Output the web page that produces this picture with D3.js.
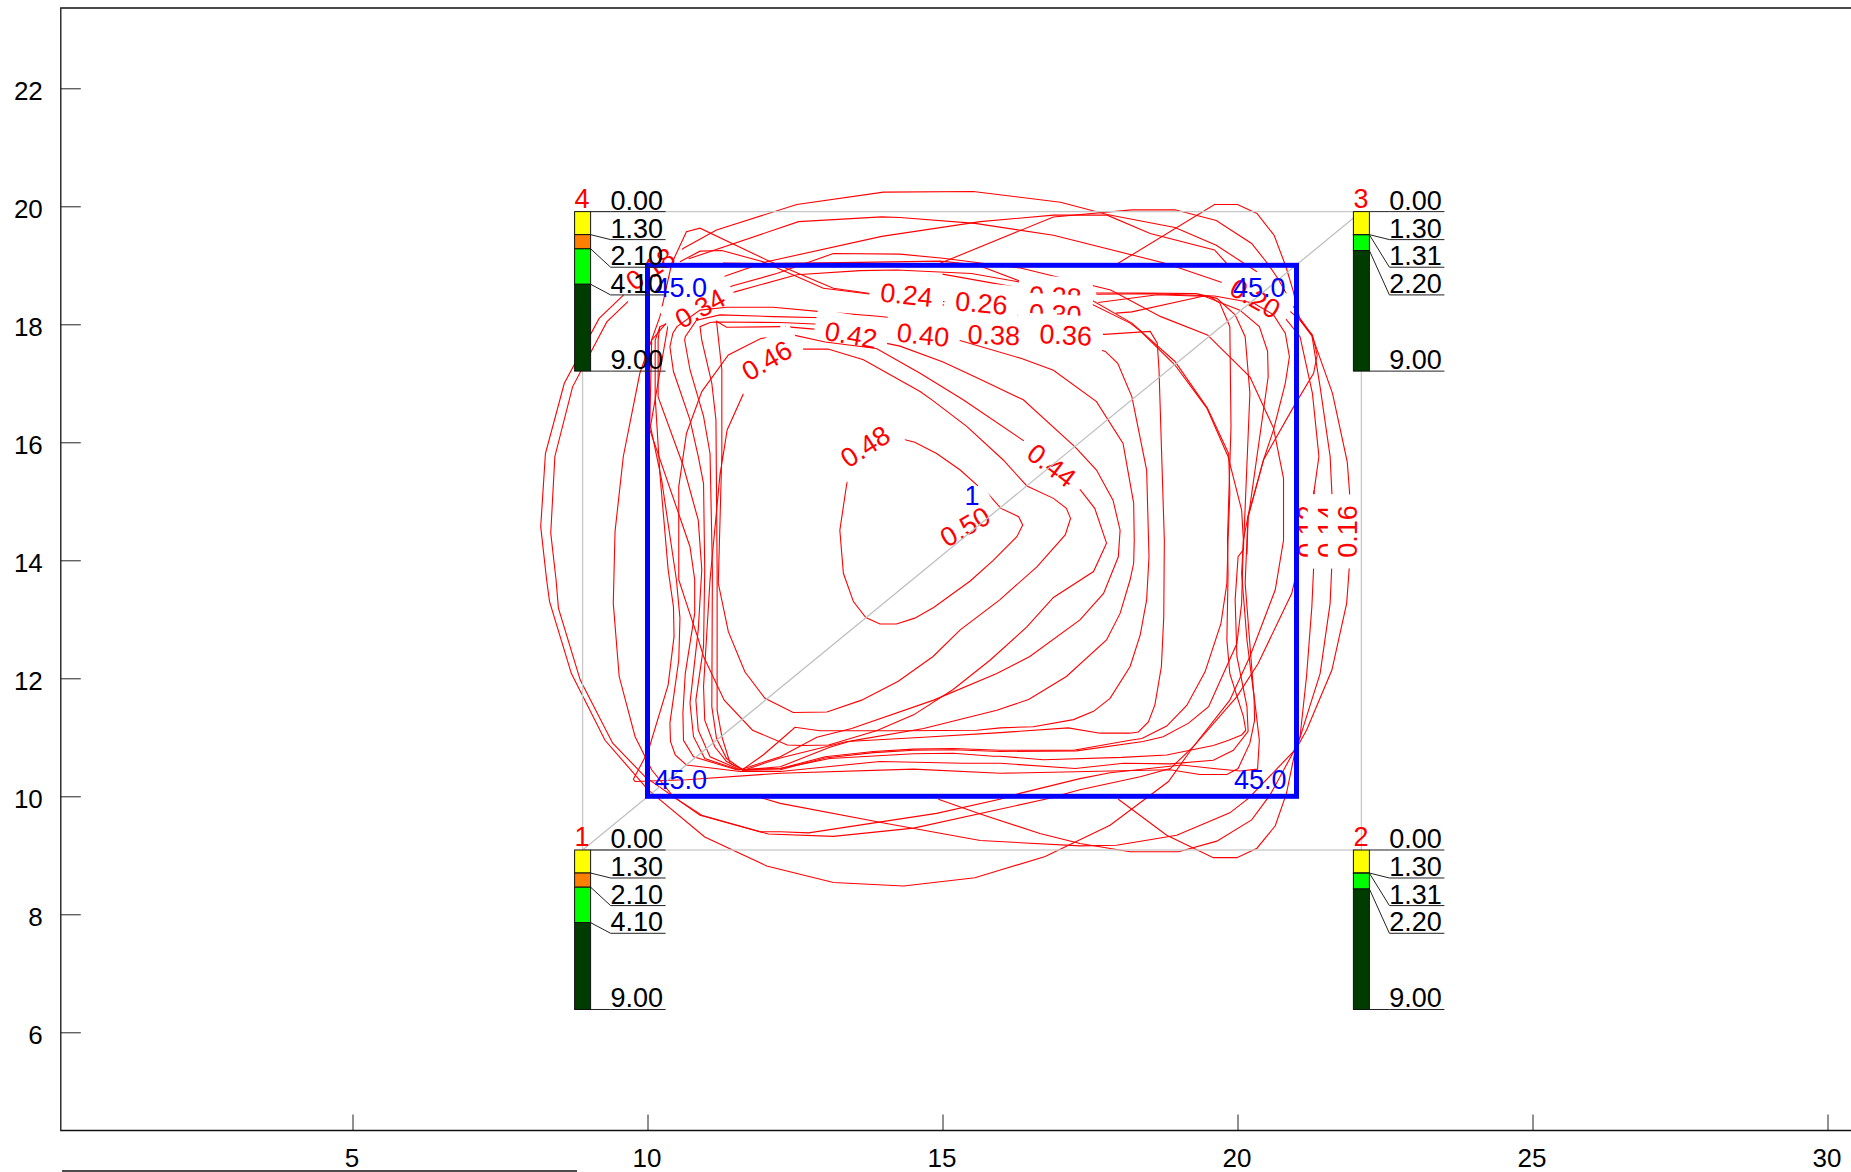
<!DOCTYPE html>
<html><head><meta charset="utf-8">
<script src="https://cdn.jsdelivr.net/npm/d3@7"></script>
<style>html,body{margin:0;padding:0;background:#fff;overflow:hidden}svg{display:block}text{font-family:"Liberation Sans",Arial,sans-serif}</style>
</head><body><svg id="c" width="1851" height="1172"></svg>
<script>
// --- values (data units) ---
const xTickValues=[5,10,15,20,25,30];
const yTickValues=[6,8,10,12,14,16,18,20,22];
const plate={x0:10,x1:21,y0:10,y1:19};
const plateLabel="45.0";
const centreLabel={text:"1",x:15.5,y:15.0};
const frame={x0:8.9,x1:22.1,y0:9.09,y1:19.91};
const stationNames=["1","2","3","4"];
const stationX=[8.9,22.1,22.1,8.9];
const stationY=[9.09,9.09,19.91,19.91];
const depthsA=[0,1.3,2.1,4.1,9];
const depthsB=[0,1.3,1.31,2.2,9];
const depthLabelsA=["0.00","1.30","2.10","4.10","9.00"];
const depthLabelsB=["0.00","1.30","1.31","2.20","9.00"];
const layerColors=["#ffff00","#ff8000","#00ff00","#003c00"];

const contourOuter=[[21.30,15.19],[21.12,14.17],[21.03,13.92],[20.92,13.44],[20.35,12.25],[19.99,11.69],[19.25,10.84],[18.83,10.25],[17.84,9.51],[16.74,8.98],[15.98,8.75],[15.55,8.62],[14.34,8.48],[13.15,8.54],[12.02,8.82],[10.97,9.31],[10.01,10.11],[9.28,10.95],[8.71,12.08],[8.34,13.30],[8.29,13.67],[8.19,14.57],[8.27,15.81],[8.59,17.00],[9.18,18.10],[9.65,18.55],[10.61,19.29],[11.17,19.60],[12.53,20.03],[14.00,20.24],[15.52,20.25],[17.00,20.07],[17.79,19.86],[18.94,19.64],[19.64,19.34],[20.33,18.89]];
const contour12=[[11.32,18.82],[12.02,19.06],[13.97,19.49],[15.64,19.74],[16.88,19.85],[17.79,19.85],[18.52,19.54],[19.61,19.26],[19.82,19.03],[20.33,18.70],[21.06,17.79],[21.27,16.83],[21.38,15.76],[21.30,15.19],[21.29,13.86],[21.26,13.21],[21.17,12.03],[21.06,11.01],[20.95,10.76],[20.18,9.96],[19.87,9.72],[18.97,9.34],[17.95,9.17],[17.33,9.16],[15.64,9.25],[14.05,9.54],[12.25,9.88],[11.91,9.98]];
const contour14=[[14.95,19.03],[16.88,19.82],[18.21,19.94],[18.94,19.94],[19.64,19.76],[20.24,19.37],[20.51,19.03],[20.70,18.75],[21.06,18.10],[21.26,17.82],[21.40,16.94],[21.57,15.76],[21.60,15.13],[21.60,13.95],[21.57,13.27],[21.40,12.08],[21.17,11.35],[21.03,10.90],[20.55,10.02],[20.24,9.60],[19.65,9.24],[19.00,9.06],[18.18,9.06],[17.33,9.20],[16.65,9.37],[15.64,9.70],[14.93,9.95]];
const contour16=[[17.97,19.03],[19.61,20.03],[20.00,20.03],[20.33,19.88],[20.62,19.51],[20.82,18.98],[20.94,18.58],[21.06,18.07],[21.27,17.79],[21.61,16.83],[21.86,15.67],[21.90,15.14],[21.90,13.95],[21.85,13.27],[21.60,12.14],[21.17,11.12],[20.98,10.78],[20.83,10.05],[20.64,9.50],[20.33,9.12],[19.99,8.96],[19.59,8.96],[18.80,9.34],[17.98,9.95]];
const contour18=[[19.85,18.67],[18.79,19.03],[16.88,19.51],[15.55,19.71],[14.28,19.81],[13.97,19.82],[12.56,19.74],[10.55,19.06],[9.84,18.55],[9.31,18.04],[9.03,17.51],[8.73,16.94],[8.43,15.76],[8.36,14.46],[8.45,13.67],[8.49,13.19],[8.86,11.97],[9.41,10.90],[9.96,10.33],[10.89,9.68],[12.05,9.36],[13.15,9.32],[14.51,9.46],[16.74,9.95],[17.33,10.11],[18.35,10.33],[18.86,10.47],[19.25,10.84],[19.87,11.63],[20.21,12.37],[20.64,13.50],[20.78,14.34],[20.78,15.39],[20.61,16.24],[20.21,17.11],[19.49,17.82],[18.70,18.13],[17.85,18.58],[16.34,18.95],[15.01,19.12],[14.28,19.19],[13.15,19.20],[12.19,18.86],[11.43,18.65]];
const contourSide=[[20.16,14.10],[20.18,14.74],[20.44,15.70],[20.95,16.60],[21.29,17.17],[21.35,17.48],[21.27,17.82],[21.06,18.07],[20.8,18.3]];
const contour20=[[17.61,18.51],[18.52,18.52],[19.61,18.48],[20.27,18.36],[20.61,18.16],[20.81,17.85],[20.88,17.45],[20.81,17.00],[20.61,16.21],[20.44,15.70],[20.18,14.74],[20.16,14.34],[20.13,13.61],[20.27,11.80],[20.37,10.95],[20.34,10.46],[20.04,10.43],[19.59,10.47],[19.05,10.53],[17.84,10.40],[17.33,10.30],[16.31,10.05],[15.97,9.95],[14.90,9.71],[12.73,9.38],[12.25,9.40],[11.91,9.40],[10.92,9.68],[10.44,9.99],[10.07,10.45],[9.79,11.01],[9.52,12.03],[9.42,13.27],[9.45,14.49],[9.59,15.76],[9.87,17.17],[10.21,18.13],[10.41,19.03],[10.66,19.57],[10.89,19.63],[12.02,19.09],[13.15,18.61],[13.86,18.51],[15.07,18.38],[15.19,18.36],[16.34,18.21]];
const contour22=[[17.94,18.19],[18.21,18.21],[19.43,18.48],[20.04,18.24],[20.37,17.96],[20.51,17.54],[20.52,17.11],[20.21,14.91],[20.10,14.34],[20.07,13.78],[20.16,12.65],[20.28,11.69],[20.29,11.29],[20.21,10.90],[20.01,10.47],[19.82,10.37],[19.36,10.37],[18.86,10.45],[15.98,10.39],[14.51,10.46],[12.25,10.39],[10.66,10.28],[9.79,10.25],[9.76,10.29],[10.01,10.76],[10.35,11.89],[10.45,12.71],[10.44,13.21],[10.35,13.84],[10.21,15.47],[10.13,16.77],[10.13,17.73],[10.21,17.96]];
const contour24=[[11.32,18.82],[10.30,18.0],[10.07,17.73],[10.04,16.32],[10.24,15.36],[10.49,13.67],[10.55,13.02],[10.53,12.31],[10.38,11.24],[10.39,10.93],[10.47,10.70],[10.66,10.53],[11.57,10.42],[12.25,10.42],[13.94,10.59],[15.35,10.56],[15.98,10.56],[17.25,10.47],[18.07,10.56],[18.86,10.55],[19.59,10.61],[19.93,10.78],[20.18,11.10],[20.16,11.52],[19.99,12.37],[19.96,13.33],[20.01,14.06],[20.10,14.18],[20.21,16.83],[20.13,17.79],[19.96,18.16],[19.65,18.44],[19.3,18.52],[18.4,18.53],[17.6,18.53]];
const contour26=[[11.43,18.65],[10.35,18.0],[10.04,16.21],[10.72,14.23],[10.80,13.67],[10.80,13.10],[10.64,12.08],[10.60,11.41],[10.61,10.95],[10.78,10.67],[11.51,10.45],[12.25,10.47],[13.09,10.64],[14.51,10.72],[15.18,10.73],[15.86,10.68],[15.98,10.68],[16.71,10.62],[18.04,10.66],[18.80,10.70],[19.59,10.86],[19.85,10.95],[20.07,11.04],[20.14,11.12],[20.10,11.35],[19.87,12.08],[19.82,12.65],[19.84,13.78],[19.83,14.34],[19.89,16.27],[19.87,17.96],[19.70,18.36],[19.53,18.47],[18.64,18.50],[17.64,18.37]];
const contour28=[[15.0,18.85],[16.40,18.6],[17.37,18.42],[18.18,18.02],[18.35,17.89],[18.94,17.31],[19.48,16.58],[19.84,15.76],[20.07,14.85],[20.10,14.34],[20.07,13.27],[19.99,12.59],[19.51,11.52],[19.17,11.24],[18.74,11.01],[18.40,10.93],[17.27,10.77],[15.98,10.76],[15.18,10.79],[14.51,10.78],[13.83,10.74],[13.01,10.65],[12.25,10.45],[11.6,10.44]];
const contour30=[[10.21,17.96],[11.48,18.55],[12.53,18.84],[13.60,18.91],[14.22,18.92],[15.49,18.86],[16.40,18.70],[17.37,18.50],[18.21,18.02],[18.94,17.37],[19.49,16.58],[19.85,15.81],[19.87,15.14],[19.84,14.34],[19.82,13.61],[19.72,12.93],[19.45,12.11],[19.14,11.54],[18.80,11.19],[18.38,10.98],[18.18,10.95],[17.22,10.78],[15.98,10.78],[15.18,10.81],[14.51,10.80],[13.83,10.76],[13.01,10.67],[12.25,10.47],[11.54,10.45],[10.97,10.64],[10.78,11.01],[10.72,11.58],[10.86,12.82],[10.92,13.84],[10.86,14.68],[10.61,15.59],[10.18,16.77],[10.18,17.73],[10.21,17.96]];
const contour32=[[10.55,19.06],[10.89,19.24],[11.26,19.25],[11.96,19.06],[12.98,18.61],[13.86,18.50],[14.28,18.45],[15.19,18.30],[16.34,18.15]];
const contour33=[[11.28,19.04],[11.85,19.03],[13.60,19.05],[14.96,19.07],[15.58,19.01],[16.34,18.72]];
const contour36=[[11.57,10.45],[11.06,10.67],[10.86,11.12],[10.82,11.63],[10.95,12.54],[10.97,13.84],[10.95,15.30],[10.86,15.76],[10.72,16.38],[10.44,17.20],[10.38,17.62],[10.43,17.85],[10.50,17.96],[10.89,18.24],[11.34,18.29],[12.13,18.29],[12.98,18.21],[13.86,18.14],[14.15,18.11],[15.2,17.98],[16.4,17.93],[17.5,17.85],[17.74,17.83],[18.52,17.88],[18.64,17.68],[18.67,17.22],[18.76,14.34],[18.75,13.04],[18.71,12.20],[18.60,11.55],[18.49,11.26],[18.32,11.09],[18.18,11.07],[17.67,11.07],[17.13,11.16],[15.98,11.08],[14.68,11.0],[13.38,10.93],[12.25,10.65],[11.68,10.46]];
const contour38=[[11.60,10.46],[11.34,10.64],[11.17,10.98],[11.09,11.52],[11.10,13.84],[11.06,15.81],[10.95,16.44],[10.72,17.23],[10.63,17.73],[10.64,17.79],[10.83,18.07],[11.23,18.16],[12.13,18.13],[12.98,18.11],[14.2,17.98],[15.3,17.85],[16.52,17.79],[17.31,17.68],[17.76,17.54],[17.97,17.34],[18.21,16.77],[18.46,15.53],[18.50,14.06],[18.46,13.33],[18.35,12.73],[18.18,12.2],[17.84,11.66],[17.56,11.44],[17.22,11.30],[16.54,11.18],[15.98,11.16],[15.58,11.12],[14.39,11.11],[12.92,11.11],[12.50,11.17],[12.25,10.95],[11.96,10.70],[11.62,10.46]];
const contour40=[[11.62,10.45],[11.40,10.56],[11.26,11.01],[11.18,11.46],[11.18,13.84],[11.16,16.38],[11.09,17.0],[10.92,17.73],[10.89,17.96],[11.06,18.03],[11.14,18.04],[12.25,18.03],[12.92,18.0],[14.2,17.9],[15.31,17.72],[16.34,17.42],[16.88,17.22],[17.61,16.69],[18.06,15.98],[18.24,14.97],[18.25,14.34],[18.24,13.95],[18.18,13.67],[18.01,13.10],[17.78,12.65],[17.10,12.03],[16.46,11.64],[15.92,11.46],[14.68,11.15],[13.46,10.94],[13.09,10.83],[12.25,10.50],[11.62,10.45]];
const contour42=[[11.60,10.46],[12.25,10.67],[12.87,11.0],[13.46,11.15],[14.85,11.63],[15.92,12.08],[16.48,12.37],[17.33,12.99],[17.73,13.44],[17.98,14.06],[18.01,14.51],[17.89,15.02],[17.61,15.53],[17.25,15.92],[16.37,16.72],[15.61,17.08],[15.01,17.36],[14.28,17.63],[12.92,17.91],[12.33,17.96]];
const contour44=[[10.53,13.67],[10.53,15.25],[10.66,16.15],[10.92,16.86],[11.37,17.48],[11.92,17.76],[12.46,17.82],[13.01,17.70],[13.88,17.59],[14.62,17.17],[15.35,16.72],[16.43,15.99],[17.34,15.19],[17.58,14.88],[17.78,14.29],[17.56,13.81],[16.88,13.37],[16.43,12.87],[15.81,12.31],[15.18,11.81],[14.51,11.38],[13.88,11.11],[13.07,10.87],[12.64,10.86],[12.37,10.87],[11.78,11.12],[11.30,11.63],[10.95,12.37],[10.83,12.76],[10.66,13.27],[10.53,13.67]];
const contour46=[[12.25,17.96],[11.34,17.95],[11.17,18.05],[11.26,17.23],[11.26,15.81],[11.20,13.61],[11.37,12.79],[11.65,12.11],[11.99,11.66],[12.25,11.53],[12.47,11.42],[13.04,11.43],[13.63,11.63],[14.25,11.95],[14.84,12.37],[15.30,12.82],[15.97,13.33],[16.60,13.89],[17.08,14.43],[17.17,14.71],[17.10,14.88],[16.88,15.05],[16.43,15.26],[16.03,15.70],[15.41,16.27],[14.82,16.72],[14.62,16.86],[13.66,17.40],[13.06,17.58],[12.64,17.58],[11.66,16.90],[11.35,16.21],[11.26,15.64],[11.23,15.47],[11.06,13.67],[10.95,11.86],[10.97,11.29],[11.14,10.84],[11.34,10.59],[11.60,10.46]];
const contour48=[[13.40,15.45],[13.26,14.51],[13.32,13.78],[13.49,13.30],[13.70,13.03],[13.94,12.92],[14.22,12.92],[14.53,13.02],[14.85,13.20],[15.47,13.65],[15.86,14.00],[16.26,14.40],[16.36,14.60],[16.29,14.74],[15.99,14.88],[15.75,15.15]];
const contour50=[[14.21,16.08],[14.53,16.00],[14.90,15.81],[15.30,15.53],[15.60,15.26]];

// contour label: text, x, y, angle
const contourLabels=[
 ["0.12",21.19,14.49,-90],["0.14",21.53,14.49,-90],["0.16",21.87,14.49,-90],
 ["0.18",10.05,18.94,-35],["0.20",20.30,18.44,30],["0.24",14.39,18.50,6],
 ["0.26",15.66,18.36,5],["0.28",16.91,18.47,3],["0.30",16.91,18.17,3],
 ["0.34",10.89,18.27,-29],["0.36",17.09,17.82,3],["0.38",15.87,17.82,2],
 ["0.40",14.67,17.82,6],["0.42",13.45,17.82,10],["0.44",16.85,15.61,37],
 ["0.46",12.02,17.39,-30],["0.48",13.69,15.93,-33],["0.50",15.38,14.57,-30]];
// painting order: later lines lie over earlier label masks
const paintOrder=[contourOuter,contour12,"0.12",contour14,"0.14",contour16,"0.16",contour18,"0.18",contourSide,"0.20",
 contour20,contour22,contour24,contour26,contour28,contour30,contour32,contour33,"0.24","0.26","0.28","0.30","0.34",
 contour36,contour38,"0.36","0.38",contour40,"0.40",contour42,"0.42",contour44,"0.44",contour46,"0.46",contour48,contour50,"0.48","0.50"];

// --- drawing ---
const svg=d3.select("#c");
const x=d3.scaleLinear().domain([10,21]).range([647.5,1296.5]);
const y=d3.scaleLinear().domain([10,19]).range([796.3,265.3]);
const FS=27, RED="#ff0000", BLUE="#0000ff";
const frameLeft=60.8, frameTop=8, frameBottom=1130.5;

// contours with masked labels
const gC=svg.append("g");
const line=d3.line().x(d=>x(d[0])).y(d=>y(d[1]));
const labelMap=new Map(contourLabels.map(d=>[d[0],d]));
paintOrder.forEach(item=>{
  if(typeof item==="string"){
    const d=labelMap.get(item);
    const g=gC.append("g").attr("transform",`translate(${x(d[1])},${y(d[2])}) rotate(${d[3]})`);
    g.append("rect").attr("x",-37).attr("y",-20).attr("width",74).attr("height",40).attr("fill","#fff");
    g.append("text").attr("text-anchor","middle").attr("y",9.5).attr("font-size",FS).attr("fill",RED).text(d[0]);
  } else {
    gC.append("path").attr("d",line(item)).attr("fill","none").attr("stroke",RED).attr("stroke-width",1.1);
  }
});

// grey frame and diagonal
svg.append("rect").attr("x",x(frame.x0)).attr("y",y(frame.y1)).attr("width",x(frame.x1)-x(frame.x0)).attr("height",y(frame.y0)-y(frame.y1))
  .attr("fill","none").attr("stroke","#c8c8c8").attr("stroke-width",1.3);
svg.append("line").attr("x1",x(frame.x0)).attr("y1",y(frame.y0)).attr("x2",x(frame.x1)).attr("y2",y(frame.y1))
  .attr("stroke","#c0c0c0").attr("stroke-width",1.3);

// plate
svg.append("rect").attr("x",x(plate.x0)).attr("y",y(plate.y1)).attr("width",x(plate.x1)-x(plate.x0)).attr("height",y(plate.y0)-y(plate.y1))
  .attr("fill","none").attr("stroke",BLUE).attr("stroke-width",5);
[[plate.x0,plate.y1,"start",7,32],[plate.x1,plate.y1,"end",-11,32],[plate.x0,plate.y0,"start",7,-7],[plate.x1,plate.y0,"end",-10,-7]].forEach(c=>{
  svg.append("text").attr("x",x(c[0])+c[3]).attr("y",y(c[1])+c[4]).attr("text-anchor",c[2]).attr("font-size",FS).attr("fill",BLUE).text(plateLabel);
});
svg.append("text").attr("x",x(centreLabel.x)).attr("y",y(centreLabel.y)).attr("dy",4).attr("text-anchor","middle").attr("font-size",FS).attr("fill",BLUE).text(centreLabel.text);

// stations
const depth=d3.scaleLinear().domain([0,9]).range([0,159.5]);
const slots=[0,28,55.6,83.3,159.5];
stationNames.forEach((name,i)=>{
  const cx=x(stationX[i]), top=y(stationY[i]);
  const useA=(name==="1"||name==="4");
  const depths=useA?depthsA:depthsB, labs=useA?depthLabelsA:depthLabelsB;
  const g=svg.append("g").attr("transform",`translate(${cx},${top})`);
  depths.slice(0,-1).forEach((d,k)=>{
    g.append("rect").attr("x",-8).attr("y",depth(d)).attr("width",16).attr("height",depth(depths[k+1])-depth(d))
     .attr("fill",layerColors[k]).attr("stroke","#111").attr("stroke-width",1);
  });
  depths.forEach((d,k)=>{
    const pts=[[8,depth(d)],[28,slots[k]],[83,slots[k]]];
    g.append("path").attr("d",d3.line()(pts)).attr("fill","none").attr("stroke","#222").attr("stroke-width",1);
    g.append("text").attr("x",80.5).attr("y",slots[k]-2).attr("text-anchor","end").attr("font-size",FS).attr("fill","#000").text(labs[k]);
  });
  g.append("text").attr("x",-0.5).attr("y",-3.5).attr("text-anchor","middle").attr("font-size",FS).attr("fill",RED).text(name);
});

// axes
const gx=svg.append("g").attr("transform",`translate(0,${frameBottom})`)
  .call(d3.axisBottom(x).tickValues(xTickValues).tickSize(-16).tickFormat(d3.format("d")));
gx.select(".domain").remove();
gx.selectAll("text").attr("x",-1).attr("y",36).attr("dy",0).attr("font-size",26).attr("font-family",'"Liberation Sans",Arial,sans-serif').attr("fill","#000");
gx.selectAll("line").attr("stroke","#222");
const gy=svg.append("g").attr("transform",`translate(${frameLeft},0)`)
  .call(d3.axisLeft(y).tickValues(yTickValues).tickSize(-20).tickFormat(d3.format("d")));
gy.select(".domain").remove();
gy.selectAll("text").attr("x",-18).attr("dy",11).attr("font-size",26).attr("font-family",'"Liberation Sans",Arial,sans-serif').attr("fill","#000");
gy.selectAll("line").attr("stroke","#222");
const border=[[1851,frameTop],[frameLeft,frameTop],[frameLeft,frameBottom],[1851,frameBottom]];
svg.append("path").attr("d",d3.line()(border)).attr("fill","none").attr("stroke","#111").attr("stroke-width",1.3);
svg.append("line").attr("x1",62).attr("x2",577).attr("y1",1171).attr("y2",1171).attr("stroke","#111").attr("stroke-width",1.3);
</script></body></html>
